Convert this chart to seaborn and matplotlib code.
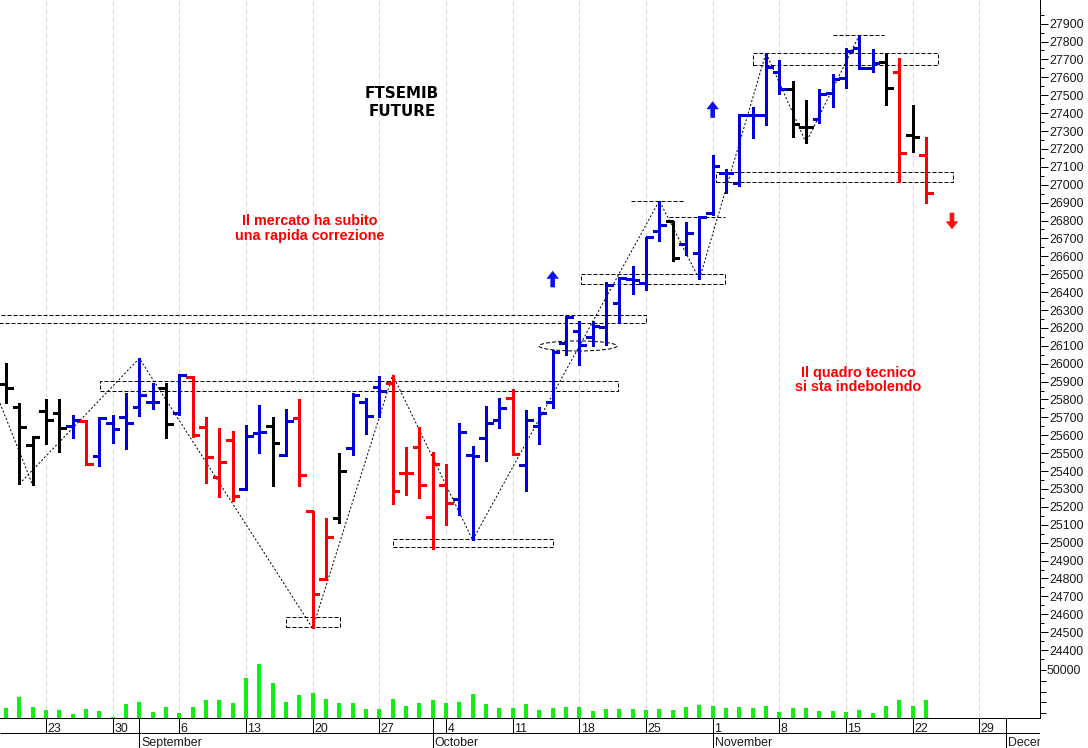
import numpy as np
import pandas as pd
import matplotlib
matplotlib.use("Agg")
import matplotlib.pyplot as plt
import matplotlib.transforms as mtransforms
from matplotlib.patches import Rectangle, Ellipse, Polygon
import seaborn as sns

# ---------------- data ----------------
start_date, end_date = "2021-08-18", "2021-11-23"
axis_end_date = "2021-12-03"

open_ = [25885, 25760, 25546, 25736, 25723, 25652, 25681, 25484, 25667, 25700,
         25760, 25788, 25862, 25726, 25924, 25645, 25369, 25574, 25298, 25611,
         25652, 25490, 25695, 25179, 24795, 25136, 25527, 25788, 25871, 25894,
         25388, 25533, 25142, 25322, 25242, 25490, 25583, 25685, 25807, 25434,
         25652, 25788, 26117, 26184, 26147, 26207, 26337, 26471, 26449, 26743,
         26799, 26669, 26620, 26840, 27067, 27011, 27389, 27389, 27631, 27533,
         27321, 27365, 27514, 27594, 27762, 27650, 27687, 27631, 27278, 27166]
high = [26005, 25779, 25598, 25801, 25801, 25713, 25685, 25700, 25713, 25834,
        26030, 25894, 25890, 25942, 25931, 25704, 25639, 25626, 25657, 25769,
        25700, 25745, 25801, 25179, 25136, 25503, 25834, 25807, 25931, 25937,
        25536, 25645, 25508, 25440, 25670, 25540, 25765, 25807, 25857, 25741,
        25756, 26074, 26266, 26240, 26240, 26458, 26486, 26546, 26709, 26911,
        26799, 26793, 26825, 27166, 27086, 27395, 27432, 27737, 27697, 27581,
        27473, 27533, 27618, 27762, 27836, 27756, 27737, 27706, 27445, 27268]
low = [25779, 25328, 25322, 25551, 25508, 25583, 25434, 25428, 25558, 25522,
       25708, 25745, 25583, 25713, 25589, 25335, 25257, 25234, 25294, 25503,
       25317, 25484, 25317, 24522, 24795, 25112, 25490, 25607, 25704, 25216,
       25266, 25248, 24963, 25099, 25155, 25015, 25458, 25639, 25490, 25290,
       25551, 25751, 26048, 25993, 26099, 26104, 26226, 26389, 26412, 26687,
       26575, 26607, 26471, 26831, 26952, 26993, 27259, 27333, 27507, 27268,
       27235, 27346, 27432, 27539, 27645, 27631, 27445, 27017, 27184, 26899]
close = [25862, 25645, 25592, 25685, 25639, 25685, 25440, 25695, 25633, 25667,
         25825, 25788, 25663, 25937, 25601, 25477, 25449, 25261, 25596, 25620,
         25555, 25681, 25378, 24713, 25030, 25402, 25825, 25708, 25849, 25290,
         25388, 25322, 25440, 25220, 25617, 25484, 25667, 25751, 25495, 25685,
         25726, 26067, 26259, 26104, 26211, 26440, 26477, 26468, 26706, 26775,
         26589, 26728, 26821, 27104, 27064, 27389, 27389, 27656, 27533, 27339,
         27324, 27507, 27589, 27749, 27650, 27682, 27539, 27179, 27268, 26952]
# bar colour per session as runs: k = neutral, b = bullish, r = bearish
trend_runs = [("k", 5), ("b", 1), ("r", 1), ("b", 5), ("k", 1), ("b", 1), ("r", 4),
              ("b", 2), ("k", 1), ("b", 1), ("r", 3), ("k", 1), ("b", 3), ("r", 5),
              ("b", 4), ("r", 1), ("b", 11), ("k", 1), ("b", 8), ("k", 2), ("b", 5),
              ("k", 1), ("r", 1), ("k", 1), ("r", 1)]
volume = [15300, 25400, 15600, 13100, 13100, 9400, 13700, 11900, 7000, 18300,
          20800, 11600, 15600, 10700, 15600, 22300, 22300, 19300, 42300, 55500,
          38300, 20800, 26900, 29100, 23300, 19300, 19300, 13700, 13700, 23300,
          16800, 19900, 22300, 19300, 20800, 27900, 18600, 14600, 15300, 18600,
          13100, 14600, 15600, 15600, 12200, 13700, 14000, 13700, 13100, 13700,
          13100, 15600, 17400, 16500, 14600, 15600, 15000, 16500, 11300, 14600,
          15000, 11900, 12200, 11000, 13100, 10000, 16500, 22300, 16500, 22300]

price_ticks = list(range(24400, 28000, 100))
price_minor = list(range(24350, 28000, 50))
volume_major = [50000]
volume_minor = [10000, 20000, 30000, 40000]
month_names = {9: "September", 10: "October", 11: "November", 12: "December"}

title_lines = ["FTSEMIB", "FUTURE"]
note_left = ["Il mercato ha subito", "una rapida correzione"]
note_right = ["Il quadro tecnico", "si sta indebolendo"]

# annotation geometry (bar index, price)
boxes = [(-1.5, 48.0, 26226, 26272), (7.05, 45.9, 25845, 25906),
         (21.0, 25.05, 24527, 24583), (29.05, 41.0, 24974, 25022),
         (43.1, 53.9, 26444, 26499), (53.25, 71.05, 27017, 27073),
         (56.05, 69.9, 27669, 27734)]
levels = [(62.0, 65.85, 27835), (46.9, 50.8, 26909), (49.7, 53.9, 26818)]
ellipse = (42.9, 26099, 5.85, 56)
zig_lead = [(-0.45, 25779), (2, 25322)]
zig_pivots = [(1, "L"), (10, "H"), (23, "L"), (29, "H"), (35, "L"),
              (49, "H"), (52, "L"), (57, "H"), (60, "L"), (64, "H")]
up_arrows = [(41.0, 26473), (53.0, 27420)]
down_arrows = [(70.95, 26797)]
title_pos = (29.7, 27483, 27385)
note_left_pos = (22.76, 26775, 26691)
note_right_pos = (63.9, 25928, 25847)

# ---------------- figure ----------------
sns.set_style("white")
plt.rcParams["font.family"] = ["Liberation Sans", "DejaVu Sans"]

W, H = 1088, 748
fig = plt.figure(figsize=(W / 100, H / 100), dpi=100)
fig.patch.set_facecolor("white")

def rect(x0, y0, x1, y1):
    return [x0 / W, 1 - y1 / H, (x1 - x0) / W, (y1 - y0) / H]

ax = fig.add_axes(rect(0, 0, 1040, 661))
axv = fig.add_axes(rect(0, 661, 1040, 718.3))
axd = fig.add_axes(rect(0, 718.3, 1040, 748))

XLIM = (-0.45, 77.55)
dates = pd.bdate_range(start_date, end_date)
all_days = pd.bdate_range(start_date, axis_end_date)
idx = np.arange(len(dates))
mondays = [i for i, d in enumerate(all_days) if d.weekday() == 0]
month_starts = [i for i in range(1, len(all_days)) if all_days[i].month != all_days[i - 1].month]

cmap = {"k": "#000000", "b": "#0000dd", "r": "#ff0000"}
trend = "".join(ch * n for ch, n in trend_runs)
cols = [cmap[ch] for ch in trend]
o = np.array(open_); h = np.array(high); l = np.array(low); c = np.array(close)

LW = 0.72  # one pixel in points
# grid
for a in (ax, axv):
    a.vlines(mondays, -1e6, 1e6, colors="#d4d4d4", linewidth=LW,
             linestyles=(0, (4, 4)), zorder=0)

# OHLC bars
ax.vlines(idx, l, h, colors=cols, linewidth=2.16, capstyle="butt",
          antialiaseds=False, zorder=3)
ax.hlines(o, idx - 0.5, idx, colors=cols, linewidth=2.0, capstyle="butt",
          antialiaseds=False, zorder=3)
ax.hlines(c, idx, idx + 0.5, colors=cols, linewidth=2.0, capstyle="butt",
          antialiaseds=False, zorder=3)

# boxes and levels
for x0, x1, y0, y1 in boxes:
    ax.add_patch(Rectangle((x0, y0), x1 - x0, y1 - y0, fill=False, edgecolor="black",
                           linewidth=LW, linestyle=(0, (4, 2)), zorder=2))
for x0, x1, y in levels:
    ax.hlines(y, x0, x1, colors="black", linewidth=LW, linestyles=(0, (4, 2)), zorder=2)
ex, ey, ew, eh = ellipse
ax.add_patch(Ellipse((ex, ey), ew, eh, fill=False, edgecolor="black",
                     linewidth=LW, linestyle=(0, (4, 2)), zorder=2))

# zigzag swing lines
zx = [p[0] for p in zig_lead]; zy = [p[1] for p in zig_lead]
ax.plot(zx, zy, color="black", linewidth=LW, linestyle=(0, (2, 2)), zorder=2)
px = [i for i, t in zig_pivots]
py = [high[i] if t == "H" else low[i] for i, t in zig_pivots]
ax.plot(px, py, color="black", linewidth=LW, linestyle=(0, (2, 2)), zorder=2)

# arrows
up_verts = np.array([(0, 8.3), (-6.3, 0.3), (-2.3, 0.3), (-2.3, -8.3),
                     (2.3, -8.3), (2.3, 0.3), (6.3, 0.3)])
def arrow(x, y, up, color):
    v = up_verts.copy()
    if not up:
        v[:, 1] *= -1
    tr = mtransforms.ScaledTranslation(x, y, ax.transData)
    ax.add_patch(Polygon(v, closed=True, transform=tr, facecolor=color,
                         edgecolor="none", zorder=4))
for x, y in up_arrows:
    arrow(x, y, True, "#1010ee")
for x, y in down_arrows:
    arrow(x, y, False, "#ff1010")

# texts
tx, ty1, ty2 = title_pos
for s, yy in zip(title_lines, (ty1, ty2)):
    ax.text(tx, yy, s, ha="center", va="baseline", fontsize=10.9,
            fontweight="bold", family="DejaVu Sans", color="black")
for (px_, y1, y2), lines in ((note_left_pos, note_left), (note_right_pos, note_right)):
    for s, yy in zip(lines, (y1, y2)):
        ax.text(px_, yy, s, ha="center", va="baseline", fontsize=10.4,
                fontweight="bold", color="#ff0000")

ax.set_xlim(XLIM)
ax.set_ylim(24339, 28032)
ax.yaxis.tick_right()
ax.set_yticks(price_ticks)
ax.set_yticks(price_minor, minor=True)
ax.set_xticks([])
ax.tick_params(axis="y", which="major", direction="out", length=5.8, width=LW,
               pad=1.0, labelsize=8.9, labelcolor="#1a1a1a", color="black")
ax.tick_params(axis="y", which="minor", direction="out", length=2.9, width=LW, color="black")
for s in ("top", "left"):
    ax.spines[s].set_visible(False)
for s in ("right", "bottom"):
    ax.spines[s].set_linewidth(LW); ax.spines[s].set_color("black")

# volume panel (seaborn)
vol_df = pd.DataFrame({"session": idx, "volume": volume})
sns.barplot(data=vol_df, x="session", y="volume", native_scale=True, width=0.3,
            color="#11ee11", saturation=1, linewidth=0, ax=axv, zorder=3)
axv.set_xlim(XLIM)
axv.set_ylim(5400, 58300)
axv.set_xlabel(""); axv.set_ylabel("")
axv.set_xticks([])
axv.yaxis.tick_right()
axv.set_yticks(volume_major)
axv.set_yticklabels([str(v) for v in volume_major])
axv.set_yticks(volume_minor, minor=True)
axv.tick_params(axis="y", which="both", direction="out", length=4.0, width=LW,
                pad=1.0, labelsize=8.9, labelcolor="#1a1a1a", color="black")
for s in ("top", "left"):
    axv.spines[s].set_visible(False)
for s in ("right", "bottom"):
    axv.spines[s].set_linewidth(LW); axv.spines[s].set_color("black")

# date axis rows
axd.set_xlim(XLIM)
axd.set_ylim(0, 29.7)
axd.axis("off")
axd.hlines(14.7, XLIM[0], XLIM[1], colors="black", linewidth=LW)
axd.vlines(mondays, 14.7, 29.7, colors="black", linewidth=LW)
axd.vlines(month_starts, 0, 29.7, colors="black", linewidth=LW)
off_day = mtransforms.offset_copy(axd.transData, fig=fig, x=1.5, y=0, units="dots")
off_mon = mtransforms.offset_copy(axd.transData, fig=fig, x=2.0, y=0, units="dots")
for i in mondays:
    axd.text(i, 16.3, str(all_days[i].day), transform=off_day, ha="left",
             va="baseline", fontsize=8.9, color="#1a1a1a", clip_on=True)
for i in month_starts:
    axd.text(i, 2.0, month_names[all_days[i].month], transform=off_mon, ha="left",
             va="baseline", fontsize=8.9, color="#1a1a1a", clip_on=True)

fig.savefig("out.png", dpi=100, facecolor="white")
